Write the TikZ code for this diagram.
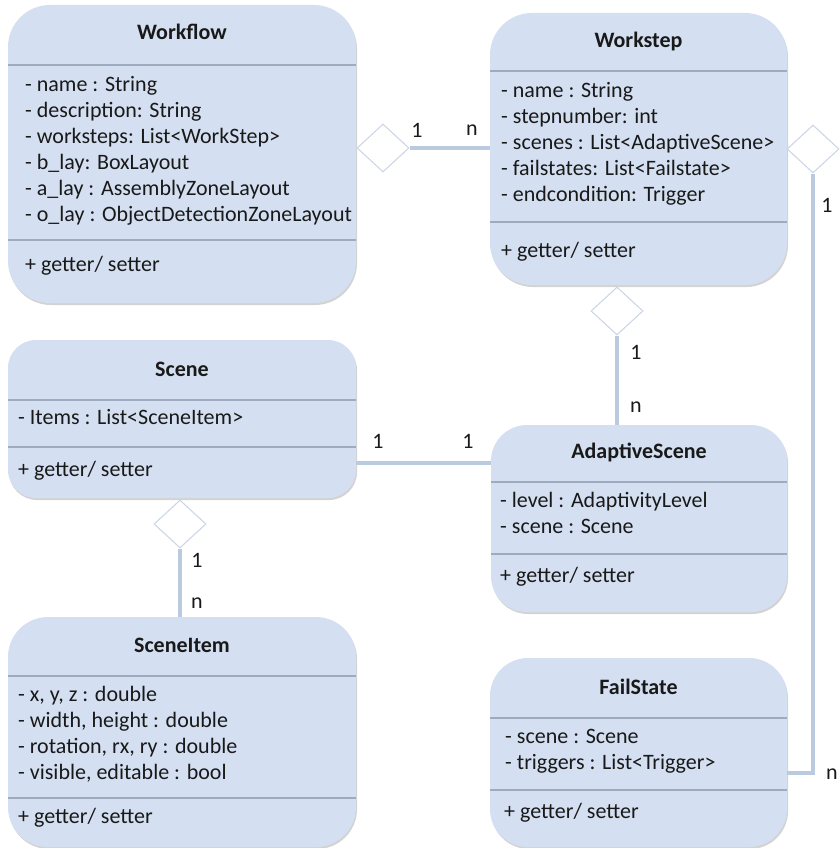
\documentclass[tikz,border=0pt]{standalone}
\usepackage{fontspec}
\setmainfont{Carlito}
\usetikzlibrary{shapes.geometric,shadows}
\definecolor{boxblue}{HTML}{D4E0F1}
\definecolor{linkblue}{HTML}{BACADF}
\definecolor{sepgray}{HTML}{9EABBE}
\definecolor{diaedge}{HTML}{C9D4E4}

\begin{document}
\begin{tikzpicture}[x=1pt,y=-1pt,
    every node/.style={font=\fontsize{22}{26}\selectfont,inner sep=0,text=black!90},
    classbox/.style={fill=boxblue,rounded corners=#1,
      drop shadow={shadow xshift=1pt,shadow yshift=-2pt,fill=black!50,opacity=0.35}},
    classname/.style={anchor=base,font=\bfseries\fontsize{22}{26}\selectfont},
    members/.style={anchor=base west,align=left},
    sepline/.style={draw=sepgray,line width=2pt},
    link/.style={draw=linkblue,line width=3.5pt},
    agg/.style={shape=diamond,draw=diaedge,fill=white,line width=1pt,
      minimum width=52pt,minimum height=48pt}]
  \useasboundingbox (0,0) rectangle (839,848);

  % classes
  \node[classbox=42pt,minimum width=348pt,minimum height=298pt] (workflow) at (182,154) {};
  \node[classbox=42pt,minimum width=297pt,minimum height=272pt] (workstep) at (638.5,149) {};
  \node[classbox=28pt,minimum width=348pt,minimum height=158pt] (scene) at (182,419) {};
  \node[classbox=36pt,minimum width=296pt,minimum height=187pt] (adaptive) at (639,518.5) {};
  \node[classbox=40pt,minimum width=348pt,minimum height=230pt] (sceneitem) at (182,732) {};
  \node[classbox=38pt,minimum width=297pt,minimum height=189pt] (failstate) at (638.5,752.5) {};

  % members are placed by the baseline of their last line
  \node[classname] (workflowname) at (182,40) {Workflow};
  \draw[sepline] (workflow.west |- 0,65) -- (workflow.east |- 0,65);
  \node[members] (workflowattr) at (25,221) {- name : String\\- description: String\\- worksteps: List<WorkStep>\\- b\_lay: BoxLayout\\- a\_lay : AssemblyZoneLayout\\- o\_lay : ObjectDetectionZoneLayout};
  \draw[sepline] (workflow.west |- 0,240) -- (workflow.east |- 0,240);
  \node[members] (workflowop) at (25,271) {+ getter/ setter};

  \node[classname] (workstepname) at (638.5,48) {Workstep};
  \draw[sepline] (workstep.west |- 0,71) -- (workstep.east |- 0,71);
  \node[members] (workstepattr) at (501,201) {- name : String\\- stepnumber: int\\- scenes : List<AdaptiveScene>\\- failstates: List<Failstate>\\- endcondition: Trigger};
  \draw[sepline] (workstep.west |- 0,222) -- (workstep.east |- 0,222);
  \node[members] (workstepop) at (501,257) {+ getter/ setter};

  \node[classname] (scenename) at (182,376) {Scene};
  \draw[sepline] (scene.west |- 0,400) -- (scene.east |- 0,400);
  \node[members] (sceneattr) at (18,424) {- Items : List<SceneItem>};
  \draw[sepline] (scene.west |- 0,447) -- (scene.east |- 0,447);
  \node[members] (sceneop) at (18,476) {+ getter/ setter};

  \node[classname] (adaptivename) at (639,458) {AdaptiveScene};
  \draw[sepline] (adaptive.west |- 0,482) -- (adaptive.east |- 0,482);
  \node[members] (adaptiveattr) at (500,533) {- level : AdaptivityLevel\\- scene : Scene};
  \draw[sepline] (adaptive.west |- 0,554) -- (adaptive.east |- 0,554);
  \node[members] (adaptiveop) at (500,582) {+ getter/ setter};

  \node[classname] (sceneitemname) at (182,652) {SceneItem};
  \draw[sepline] (sceneitem.west |- 0,676) -- (sceneitem.east |- 0,676);
  \node[members] (sceneitemattr) at (18,779) {- x, y, z : double\\- width, height : double\\- rotation, rx, ry : double\\- visible, editable : bool};
  \draw[sepline] (sceneitem.west |- 0,798) -- (sceneitem.east |- 0,798);
  \node[members] (sceneitemop) at (18,823) {+ getter/ setter};

  \node[classname] (failstatename) at (638.5,694) {FailState};
  \draw[sepline] (failstate.west |- 0,718) -- (failstate.east |- 0,718);
  \node[members] (failstateattr) at (505,769) {- scene : Scene\\- triggers : List<Trigger>};
  \draw[sepline] (failstate.west |- 0,790) -- (failstate.east |- 0,790);
  \node[members] (failstateop) at (504,818) {+ getter/ setter};

  % aggregations
  \node[agg] (flowagg) at (383,148) {};
  \node[agg] (stepagg) at (617,311) {};
  \node[agg] (failagg) at (813,149) {};
  \node[agg] (sceneagg) at (180,524) {};

  \draw[link] (flowagg.east) -- (flowagg.east -| workstep.west);
  \draw[link] (stepagg.south) -- (stepagg.south |- adaptive.north);
  \draw[link] ([yshift=-44pt]scene.east) -- ([yshift=-44pt]scene.east -| adaptive.west);
  \draw[link] (sceneagg.south) -- (sceneagg.south |- sceneitem.north);
  \draw[link] (failagg.south) |- ([yshift=-20.5pt]failstate.east);

  % multiplicities
  \node (flowone) at (417,130) {1};
  \node (stepn) at (472,130) {n};
  \node (failone) at (827,205) {1};
  \node (failn) at (832,774) {n};
  \node (stepone) at (636,352) {1};
  \node (adaptiven) at (636,407) {n};
  \node (sceneone) at (378,441) {1};
  \node (adaptiveone) at (468,441) {1};
  \node (itemone) at (197,560) {1};
  \node (itemn) at (197,603) {n};
\end{tikzpicture}
\end{document}
